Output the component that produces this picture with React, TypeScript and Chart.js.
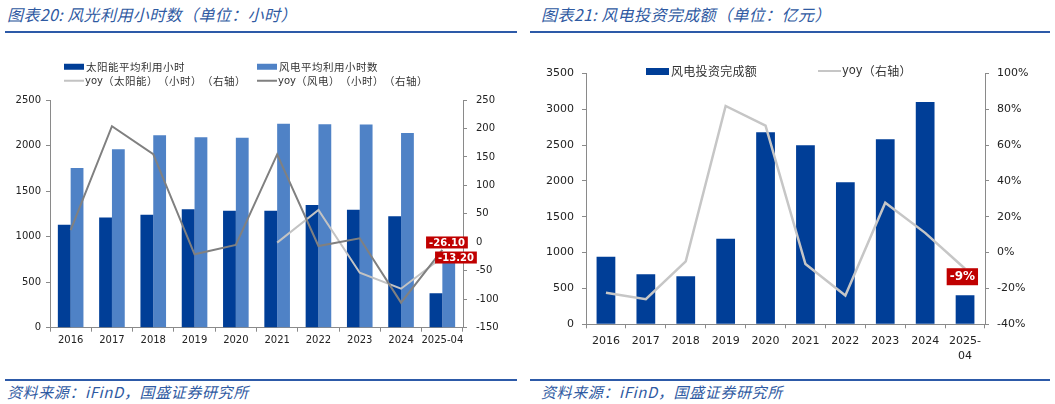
import React, { useEffect, useRef } from 'react';
import { Chart, registerables } from 'chart.js';

Chart.register(...registerables);

// ---------- Data: chart 20 (utilization hours) ----------
const hourCategories = ['2016', '2017', '2018', '2019', '2020', '2021', '2022', '2023', '2024', '2025-04'];
const solarHours = [1130, 1210, 1240, 1300, 1285, 1285, 1347, 1296, 1223, 377];
const windHours = [1753, 1959, 2112, 2090, 2085, 2240, 2233, 2230, 2138, 720];
const solarYoy: (number | null)[] = [null, null, null, null, null, -0.6, 56.8, -53.4, -81.5, -26.1];
const windYoy = [21.6, 204, 155, -21, -4.7, 154.6, -6.5, 7, -106, -13.2];
const hourLeftAxis = [0, 2500, 500];
const hourRightAxis = [-150, 250, 50];
const hourLabels = ['-26.10', '-13.20'];

// ---------- Data: chart 21 (wind investment) ----------
const investCategories: (string | string[])[] = ['2016', '2017', '2018', '2019', '2020', '2021', '2022', '2023', '2024', ['2025-', '04']];
const windInvest = [943, 697, 669, 1194, 2677, 2496, 1980, 2580, 3100, 404];
const investYoy = [-22.4, -26, -4.9, 81.8, 70.8, -6.4, -23.9, 27.8, 11, -9];
const investLeftAxis = [0, 3500, 500];
const investRightAxis = [-40, 100, 20];
const investLabels = ['-9%'];

const DARK_BLUE = '#003e97';
const MID_BLUE = '#4f82c6';
const AXIS = '#8a8a8a';
const TICK_FONT = 'DejaVu Sans';
const CJK = '"Noto Sans CJK SC"';

type LabelSpec = { ds: number; idx: number; text: string; dx: number; dy: number; font: number; h: number };

function makeLabelPlugin(specs: LabelSpec[]) {
  return {
    id: 'redLabels',
    afterDatasetsDraw(chart: any) {
      const ctx = chart.ctx;
      ctx.save();
      specs.forEach((s) => {
        const el = chart.getDatasetMeta(s.ds).data[s.idx];
        if (!el) return;
        ctx.font = `bold ${s.font}px ${TICK_FONT}`;
        const w = ctx.measureText(s.text).width + 6;
        const cx = el.x + s.dx;
        const cy = el.y + s.dy;
        ctx.fillStyle = '#c00000';
        ctx.fillRect(cx - w / 2, cy - s.h / 2, w, s.h);
        ctx.fillStyle = '#ffffff';
        ctx.textAlign = 'center';
        ctx.textBaseline = 'middle';
        ctx.fillText(s.text, cx, cy + 0.5);
      });
      ctx.restore();
    },
  };
}

function yAxis(range: number[], position: 'left' | 'right', width: number, size: number, pad: number, fmt?: (v: number) => string) {
  return {
    type: 'linear',
    position,
    min: range[0],
    max: range[1],
    grid: { display: true, drawOnChartArea: false, color: AXIS, tickLength: 4 },
    border: { color: AXIS, width: 1 },
    ticks: {
      stepSize: range[2],
      color: '#222',
      padding: pad,
      font: { family: TICK_FONT, size },
      callback: (v: any) => (fmt ? fmt(v) : String(v)),
    },
    afterFit: (scale: any) => {
      scale.width = width;
    },
  };
}

function HoursChart() {
  const ref = useRef<HTMLCanvasElement>(null);
  useEffect(() => {
    if (!ref.current) return;
    const chart = new Chart(ref.current, {
      type: 'bar',
      data: {
        labels: hourCategories,
        datasets: [
          { type: 'bar', label: '太阳能平均利用小时', data: solarHours, backgroundColor: DARK_BLUE, yAxisID: 'y', order: 2, barPercentage: 1, categoryPercentage: 0.62 },
          { type: 'bar', label: '风电平均利用小时数', data: windHours, backgroundColor: MID_BLUE, yAxisID: 'y', order: 2, barPercentage: 1, categoryPercentage: 0.62 },
          { type: 'line', label: 'yoy（太阳能）（小时）（右轴）', data: solarYoy, borderColor: '#c3c3c3', borderWidth: 2, pointRadius: 0, yAxisID: 'y1', order: 1, spanGaps: false, tension: 0 },
          { type: 'line', label: 'yoy（风电）（小时）（右轴）', data: windYoy, borderColor: '#808080', borderWidth: 2, pointRadius: 0, yAxisID: 'y1', order: 0, tension: 0 },
        ] as any,
      },
      options: {
        responsive: false,
        animation: false,
        layout: { padding: { top: 100, left: 0, right: 0, bottom: 0 } },
        plugins: { legend: { display: false }, tooltip: { enabled: false } },
        scales: {
          x: {
            grid: { display: true, drawOnChartArea: false, offset: true, color: AXIS, tickLength: 4 },
            border: { color: AXIS, width: 1 },
            ticks: { color: '#222', padding: 3, font: { family: TICK_FONT, size: 10 }, maxRotation: 0, autoSkip: false },
            afterFit: (scale: any) => {
              scale.height = 32.3;
            },
          },
          y: yAxis(hourLeftAxis, 'left', 50, 10, 5),
          y1: yAxis(hourRightAxis, 'right', 57, 10, 9),
        } as any,
      },
      plugins: [
        makeLabelPlugin([
          { ds: 2, idx: 9, text: hourLabels[0], dx: 4.6, dy: -14.7, font: 10, h: 12 },
          { ds: 3, idx: 9, text: hourLabels[1], dx: 13.6, dy: 7.7, font: 10, h: 12 },
        ]),
      ],
    });
    return () => chart.destroy();
  }, []);
  return <canvas ref={ref} width={520} height={360} style={{ position: 'absolute', left: 0, top: 0, width: 520, height: 360 }} />;
}

function InvestChart() {
  const ref = useRef<HTMLCanvasElement>(null);
  useEffect(() => {
    if (!ref.current) return;
    const chart = new Chart(ref.current, {
      type: 'bar',
      data: {
        labels: investCategories,
        datasets: [
          { type: 'bar', label: '风电投资完成额', data: windInvest, backgroundColor: DARK_BLUE, yAxisID: 'y', order: 2, barPercentage: 0.47, categoryPercentage: 1 },
          { type: 'line', label: 'yoy（右轴）', data: investYoy, borderColor: '#c6c6c6', borderWidth: 2.5, pointRadius: 0, yAxisID: 'y1', order: 1, tension: 0 },
        ] as any,
      },
      options: {
        responsive: false,
        animation: false,
        layout: { padding: { top: 73.3, left: 0, right: 0, bottom: 0 } },
        plugins: { legend: { display: false }, tooltip: { enabled: false } },
        scales: {
          x: {
            grid: { display: true, drawOnChartArea: false, offset: true, color: AXIS, tickLength: 4 },
            border: { color: AXIS, width: 1 },
            ticks: { color: '#222', padding: 5, font: { family: TICK_FONT, size: 11, lineHeight: 1.36 }, maxRotation: 0, autoSkip: false },
            afterFit: (scale: any) => {
              scale.height = 45.7;
            },
          },
          y: yAxis(investLeftAxis, 'left', 61, 11, 8),
          y1: yAxis(investRightAxis, 'right', 70, 11, 8, (v) => v + '%'),
        } as any,
      },
      plugins: [makeLabelPlugin([{ ds: 1, idx: 9, text: investLabels[0], dx: -2.7, dy: 8, font: 12, h: 17 }])],
    });
    return () => chart.destroy();
  }, []);
  return <canvas ref={ref} width={530} height={370} style={{ position: 'absolute', left: 525, top: 0, width: 530, height: 370 }} />;
}

const titleStyle: any = {
  position: 'absolute',
  top: 14,
  transform: 'translateY(-50%)',
  fontFamily: CJK,
  fontStyle: 'italic',
  fontSize: 16,
  letterSpacing: 0.4,
  color: '#2f5aa2',
  whiteSpace: 'nowrap',
  lineHeight: 1,
  textSpacingTrim: 'space-all',
};
const footStyle: any = { ...titleStyle, top: 391, fontSize: 15, letterSpacing: 0.6 };

function Rule({ left, width, top }: { left: number; width: number; top: number }) {
  return <div style={{ position: 'absolute', left, top: top - 1, width, height: 2, background: '#2d5aa8' }} />;
}

function LegendItem({ left, top, kind, color, text, size }: { left: number; top: number; kind: 'box' | 'line'; color: string; text: string; size: number }) {
  const mark =
    kind === 'box' ? (
      <span style={{ display: 'inline-block', width: size > 11 ? 23 : 20, height: size > 11 ? 7 : 6, background: color, marginRight: 2 }} />
    ) : (
      <span style={{ display: 'inline-block', width: size > 11 ? 23 : 20, height: 2, background: color, marginRight: 1 }} />
    );
  const parts = text.startsWith('yoy')
    ? [
        <span key="a" style={{ fontFamily: TICK_FONT, fontSize: size - 0.5, letterSpacing: 0 }}>yoy</span>,
        <span key="b">{text.slice(3)}</span>,
      ]
    : [<span key="a">{text}</span>];
  const style: any = {
    position: 'absolute',
    left,
    top,
    transform: 'translateY(-50%)',
    display: 'flex',
    alignItems: 'center',
    fontFamily: CJK,
    fontSize: size,
    letterSpacing: size > 11 ? 0.3 : 0.5,
    color: '#333',
    whiteSpace: 'nowrap',
    lineHeight: 1,
    textSpacingTrim: 'space-all',
  };
  return (
    <div style={style}>
      {mark}
      {parts}
    </div>
  );
}

export default function App() {
  useEffect(() => {
    document.body.style.margin = '0';
  }, []);
  return (
    <div style={{ position: 'relative', width: 1055, height: 404, background: '#fff', overflow: 'hidden' }}>
      <div style={{ ...titleStyle, left: 7 }}>图表20: 风光利用小时数（单位：小时）</div>
      <div style={{ ...titleStyle, left: 541 }}>图表21: 风电投资完成额（单位：亿元）</div>
      <Rule left={5} width={512} top={32} />
      <Rule left={530} width={520} top={32} />
      <HoursChart />
      <InvestChart />
      <LegendItem left={64} top={67} kind="box" color={DARK_BLUE} text="太阳能平均利用小时" size={10.5} />
      <LegendItem left={257} top={67} kind="box" color={MID_BLUE} text="风电平均利用小时数" size={10.5} />
      <LegendItem left={64} top={81} kind="line" color="#c3c3c3" text="yoy（太阳能）（小时）（右轴）" size={10.5} />
      <LegendItem left={257} top={81} kind="line" color="#808080" text="yoy（风电）（小时）（右轴）" size={10.5} />
      <LegendItem left={646} top={71} kind="box" color={DARK_BLUE} text="风电投资完成额" size={12} />
      <LegendItem left={818} top={71} kind="line" color="#c6c6c6" text="yoy（右轴）" size={12} />
      <Rule left={5} width={512} top={380} />
      <Rule left={530} width={520} top={380} />
      <div style={{ ...footStyle, left: 7 }}>资料来源：iFinD，国盛证券研究所</div>
      <div style={{ ...footStyle, left: 541 }}>资料来源：iFinD，国盛证券研究所</div>
    </div>
  );
}
